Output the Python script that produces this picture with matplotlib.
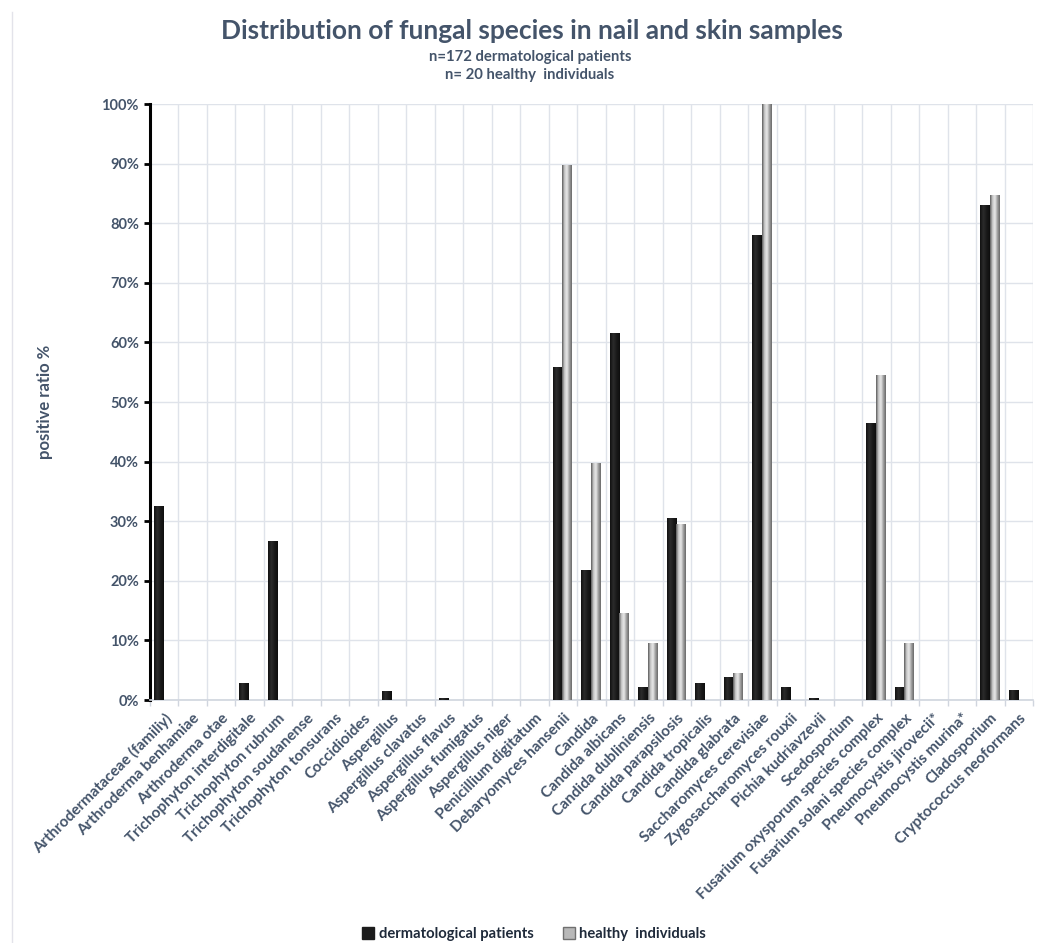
import matplotlib
matplotlib.use("Agg")
import matplotlib.pyplot as plt
import numpy as np
from matplotlib.colors import LinearSegmentedColormap
from matplotlib.lines import Line2D
from matplotlib.patches import Patch

plt.rcParams['font.family'] = ['Lato', 'DejaVu Sans']

categories = [
    "Arthrodermataceae (familiy)", "Arthroderma benhamiae", "Arthroderma otae",
    "Trichophyton interdigitale", "Trichophyton rubrum", "Trichophyton soudanense",
    "Trichophyton tonsurans", "Coccidioides", "Aspergillus", "Aspergillus clavatus",
    "Aspergillus flavus", "Aspergillus fumigatus", "Aspergillus niger",
    "Penicillium digitatum", "Debaryomyces hansenii", "Candida", "Candida albicans",
    "Candida dubliniensis", "Candida parapsilosis", "Candida tropicalis",
    "Candida glabrata", "Saccharomyces cerevisiae", "Zygosaccharomyces rouxii",
    "Pichia kudriavzevii", "Scedosporium", "Fusarium oxysporum species complex",
    "Fusarium solani species complex", "Pneumocystis jirovecii*", "Pneumocystis murina*",
    "Cladosporium", "Cryptococcus neoformans",
]
dermatological = [32.5, 0, 0, 2.8, 26.7, 0, 0, 0, 1.5, 0, 0.4, 0, 0, 0,
                  55.8, 21.8, 61.6, 2.1, 30.6, 2.8, 3.9, 78.0, 2.1, 0.4, 0,
                  46.4, 2.1, 0, 0, 83.1, 1.7]
healthy = [0, 0, 0, 0, 0, 0, 0, 0, 0, 0, 0, 0, 0, 0,
           89.8, 39.7, 14.6, 9.6, 29.6, 0, 4.6, 100, 0, 0, 0,
           54.6, 9.6, 0, 0, 84.7, 0]
series_names = ["dermatological patients", "healthy  individuals"]
yticks = [0, 10, 20, 30, 40, 50, 60, 70, 80, 90, 100]

title_color = "#44546A"
W, H = 1037, 943
fig = plt.figure(figsize=(W / 100, H / 100), dpi=100)
ax = fig.add_axes([150 / W, 1 - 700 / H, (1033 - 150) / W, (700 - 104) / H])

x = np.arange(len(categories))
bw = 0.34
b1 = ax.bar(x - 0.19, dermatological, width=bw, color="#1c1c1c", zorder=3)
b2 = ax.bar(x + 0.15, healthy, width=bw, color="#a8a8a8", zorder=3)

cm_d = LinearSegmentedColormap.from_list("d", ["#111111", "#2c2c2c", "#1a1a1a", "#0e0e0e"])
cm_h = LinearSegmentedColormap.from_list("h", ["#5a5a5a", "#c8c8c8", "#e8e8e8", "#a0a0a0", "#6a6a6a"])
grad = np.linspace(0, 1, 64).reshape(1, -1)
for bars, cm in ((b1, cm_d), (b2, cm_h)):
    for r in bars:
        if r.get_height() <= 0:
            continue
        x0, y0, w, h = r.get_x(), r.get_y(), r.get_width(), r.get_height()
        im = ax.imshow(grad, extent=[x0, x0 + w, y0, y0 + h], aspect='auto',
                       cmap=cm, zorder=3.5, interpolation='bilinear')
        im.set_clip_path(r)

ax.set_xlim(-0.5, len(categories) - 0.5)
ax.set_ylim(0, 100)

ax.set_yticks(yticks)
ax.set_yticklabels([f"{v}%" for v in yticks], fontsize=10.5, fontweight='bold', color=title_color)
ax.set_xticks(x)
ax.set_xticklabels(categories, rotation=45, ha='right', rotation_mode='anchor',
                   fontsize=11, fontweight='bold', color=title_color)
ax.tick_params(axis='x', length=0, pad=8)
ax.set_xticks(np.arange(len(categories) + 1) - 0.5, minor=True)
ax.tick_params(axis='x', which='minor', length=4, color="#d0d5de", width=1)
ax.tick_params(axis='y', length=4, width=2, color='black', pad=4)
ax.yaxis.grid(True, color="#dfe3ea", lw=1, zorder=0)
ax.xaxis.grid(True, which='minor', color="#dfe3ea", lw=1, zorder=0)
ax.xaxis.grid(False, which='major')
ax.set_axisbelow(True)
for s in ("top", "right"):
    ax.spines[s].set_visible(False)
ax.spines['left'].set_linewidth(2.2)
ax.spines['left'].set_color('black')
ax.spines['bottom'].set_color("#d0d5de")
ax.spines['bottom'].set_linewidth(1.2)

ax.set_ylabel("positive ratio %", fontsize=12, fontweight='bold', color=title_color, labelpad=0)
ax.yaxis.set_label_coords(-97 / (1033 - 150), 0.5)

fig.text(532 / W, 1 - 31 / H, "Distribution of fungal species in nail and skin samples",
         ha='center', va='center', fontsize=19, fontweight='bold', color=title_color)
fig.text(530 / W, 1 - 57 / H, "n=172 dermatological patients",
         ha='center', va='center', fontsize=10.7, fontweight='bold', color=title_color)
fig.text(530 / W, 1 - 75 / H, "n= 20 healthy  individuals",
         ha='center', va='center', fontsize=10.7, fontweight='bold', color=title_color)

handles = [Patch(facecolor="#1c1c1c", edgecolor="#1c1c1c"),
           Patch(facecolor="#b8b8b8", edgecolor="#707070")]
fig.legend(handles, series_names, loc='center', bbox_to_anchor=(534 / W, 1 - 934 / H),
           ncol=2, frameon=False, handlelength=0.8, handleheight=0.8,
           handletextpad=0.3, columnspacing=2.0,
           prop={'weight': 'bold', 'size': 10.6})
for t in fig.legends[0].get_texts():
    t.set_color("#1f2a3a")

fig.add_artist(Line2D([12 / W, 12 / W], [0, 1 - 12 / H], color="#e3e3ea", lw=1))

fig.savefig("out.png", dpi=100)
